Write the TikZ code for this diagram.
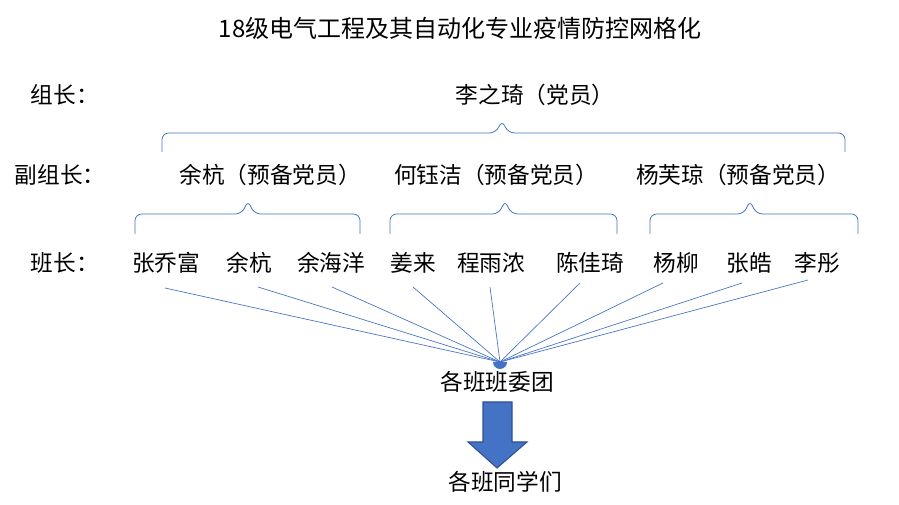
\documentclass[tikz,border=0pt]{standalone}
\usepackage{fontspec}
\setmainfont{Noto Sans CJK SC}
\definecolor{lc}{RGB}{68,114,196}
\begin{document}
\begin{tikzpicture}[x=0.75pt,y=-0.75pt,
  lbl/.style={font=\fontsize{17}{19}\selectfont, inner sep=0pt},
  br/.style={draw=lc, line width=0.6pt, rounded corners=5pt},
  ln/.style={draw=lc, line width=0.5pt}]
\useasboundingbox[fill=white] (0,0) rectangle (899,505);
\node[lbl, font=\fontsize{18}{20}\selectfont] (title) at (460,28) {18级电气工程及其自动化专业疫情防控网格化};
\node[lbl] (r1) at (65,95) {组长：};
\node[lbl] (r2) at (60,175) {副组长：};
\node[lbl] (r3) at (65,263) {班长：};
\node[lbl] (top) at (535,95) {李之琦（党员）};
\node[lbl] (a) at (270,175) {余杭（预备党员）};
\node[lbl] (b) at (496,175) {何钰洁（预备党员）};
\node[lbl] (c) at (738,175) {杨芙琼（预备党员）};
\draw[br] (162,152) -- (162,133) -- (496,133) -- (502,120) -- (508,133) -- (845,133) -- (845,152);
\draw[br] (135,234) -- (135,214) -- (242,214) -- (248,200) -- (254,214) -- (360,214) -- (360,234);
\draw[br] (390,234) -- (390,214) -- (499,214) -- (505,200) -- (511,214) -- (617,214) -- (617,234);
\draw[br] (650,234) -- (650,214) -- (744,214) -- (750,200) -- (756,214) -- (858,214) -- (858,234);
\node[lbl] (s1) at (166,263) {张乔富};
\node[lbl] (s2) at (249,263) {余杭};
\node[lbl] (s3) at (331,263) {余海洋};
\node[lbl] (s4) at (413,263) {姜来};
\node[lbl] (s5) at (491,263) {程雨浓};
\node[lbl] (s6) at (590,263) {陈佳琦};
\node[lbl] (s7) at (676,263) {杨柳};
\node[lbl] (s8) at (749,263) {张皓};
\node[lbl] (s9) at (817,263) {李彤};
\coordinate (hub) at (500,362);
\fill[lc] (493,362) arc (180:0:7) -- cycle;
\foreach \p/\q in {165/288,258/287,332/287,413/287,490/287,580/283,663/283,742/283,808/280}
  \draw[ln] (\p,\q) -- (hub);
\node[lbl] (bw) at (497,382) {各班班委团};
\node[lbl] (cls) at (505,482) {各班同学们};
\draw[fill=lc, draw={rgb,255:red,47;green,82;blue,143}, line width=0.8pt]
  (483,402) -- (512,402) -- (512,442) -- (527,442) -- (497,468) -- (468,442) -- (483,442) -- cycle;
\end{tikzpicture}
\end{document}
